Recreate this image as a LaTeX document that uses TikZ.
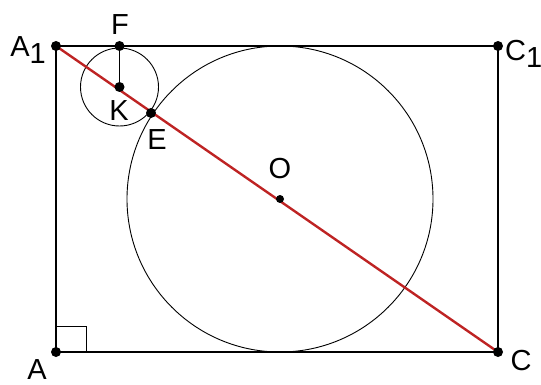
\documentclass[tikz,border=0pt]{standalone}
\usepackage{fontspec}
\setmainfont{Liberation Sans}
\definecolor{diag}{RGB}{190,35,35}
\begin{document}
\begin{tikzpicture}[x=1pt,y=-1pt,
  lbl/.style={inner sep=0pt,font=\fontsize{29}{29}\selectfont},
  dot/.style={circle,fill=black,inner sep=0pt,minimum size=10pt},
  ln/.style={line width=1.4pt},
  thin/.style={line width=0.9pt}]
\useasboundingbox (0,0) rectangle (541,385);
\coordinate (A1) at (56,46);
\coordinate (C1) at (498,46);
\coordinate (A) at (56,352);
\coordinate (C) at (498,352);
\coordinate (O) at (280,199);
\coordinate (K) at (119.5,87);
\coordinate (F) at (119.5,46);
\coordinate (E) at (151,113);
\draw[ln] (A1) -- (C1) -- (C) -- (A) -- cycle;
\draw[thin] (A) ++(0,-26) -| ++(30,26);
\draw[thin] (O) circle[radius=153];
\draw[thin] (K) circle[radius=39];
\draw[ln] (F) -- (K);
\draw[diag,line width=2.4pt] (A1) -- (C);
\node[dot] at (A1) {};
\node[dot] at (C1) {};
\node[dot] at (A) {};
\node[dot] at (C) {};
\node[dot] at (F) {};
\node[dot] at (K) {};
\node[dot] at (E) {};
\node[circle,fill=black,inner sep=0pt,minimum size=8pt] at (O) {};
\node[lbl] (lA1) at (28,50) {A\raisebox{-7pt}{1}};
\node[lbl] (lF) at (120,25) {F};
\node[lbl] (lK) at (119,111) {K};
\node[lbl] (lE) at (157,140) {E};
\node[lbl] (lO) at (280,169) {O};
\node[lbl] (lA) at (37,370) {A};
\node[lbl] (lC) at (521,361) {C};
\node[lbl,anchor=west] (lC1) at (505,54) {C\raisebox{-7pt}{1}};
\end{tikzpicture}
\end{document}
